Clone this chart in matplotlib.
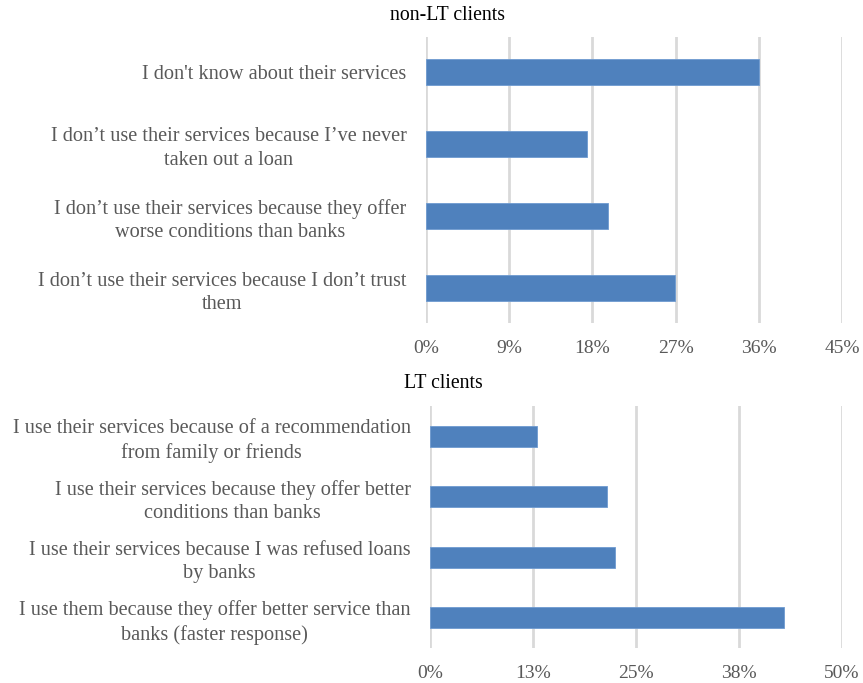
import matplotlib.pyplot as plt
from matplotlib.ticker import FuncFormatter

plt.rcParams["font.family"] = ["Liberation Serif", "DejaVu Serif"]

# non-LT clients
nonlt_labels = [
    "I don't know about their services",
    "I don\u2019t use their services because I\u2019ve never\ntaken out a loan",
    "I don\u2019t use their services because they offer\nworse conditions than banks",
    "I don\u2019t use their services because I don\u2019t trust\nthem",
]
nonlt_values = [36.0, 17.4, 19.7, 26.9]
nonlt_ticks = [0, 9, 18, 27, 36, 45]

# LT clients
lt_labels = [
    "I use their services because of a recommendation\nfrom family or friends",
    "I use their services because they offer better\nconditions than banks",
    "I use their services because I was refused loans\nby banks",
    "I use them because they offer better service than\nbanks (faster response)",
]
lt_values = [13.0, 21.5, 22.5, 43.0]
lt_ticks = [0, 12.5, 25, 37.5, 50]

bar_color = "#4F81BD"
grid_color = "#D9D9D9"
text_color = "#595959"

fig = plt.figure(figsize=(8.63, 6.83), dpi=100)
ax1 = fig.add_axes([0.4936, 0.527, 0.4821, 0.419])
ax2 = fig.add_axes([0.4983, 0.0512, 0.4774, 0.3544])


def pct(v, p):
    # round half up, so 12.5 -> 13% and 37.5 -> 38%
    return f"{int(v + 0.5)}%"


def draw(ax, labels, values, ticks, pad_y):
    pos = list(range(len(values)))
    ax.barh(pos, values, height=0.35, color=bar_color, edgecolor="#6E9BD1",
            linewidth=0.6, zorder=3)
    ax.set_ylim(len(values) - 1 + pad_y, -pad_y)
    ax.set_xlim(0, ticks[-1])
    ax.set_xticks(ticks)
    ax.xaxis.set_major_formatter(FuncFormatter(pct))
    ax.set_yticks(pos)
    ax.set_yticklabels(labels, multialignment="center", fontsize=14.6, linespacing=1.3)
    ax.grid(axis="x", color=grid_color, linewidth=2, zorder=0)
    ax.set_axisbelow(True)
    for s in ax.spines.values():
        s.set_visible(False)
    ax.tick_params(axis="both", length=0, labelcolor=text_color)
    ax.tick_params(axis="x", pad=12, labelsize=14)
    ax.tick_params(axis="y", pad=14)


draw(ax1, nonlt_labels, nonlt_values, nonlt_ticks, 0.486)
draw(ax2, lt_labels, lt_values, lt_ticks, 0.5)

fig.text(0.518, 0.977, "non-LT clients", ha="center", va="center", fontsize=14.2, color="#000000")
fig.text(0.514, 0.438, "LT clients", ha="center", va="center", fontsize=14.2, color="#000000")

fig.savefig("out.png", dpi=100)
